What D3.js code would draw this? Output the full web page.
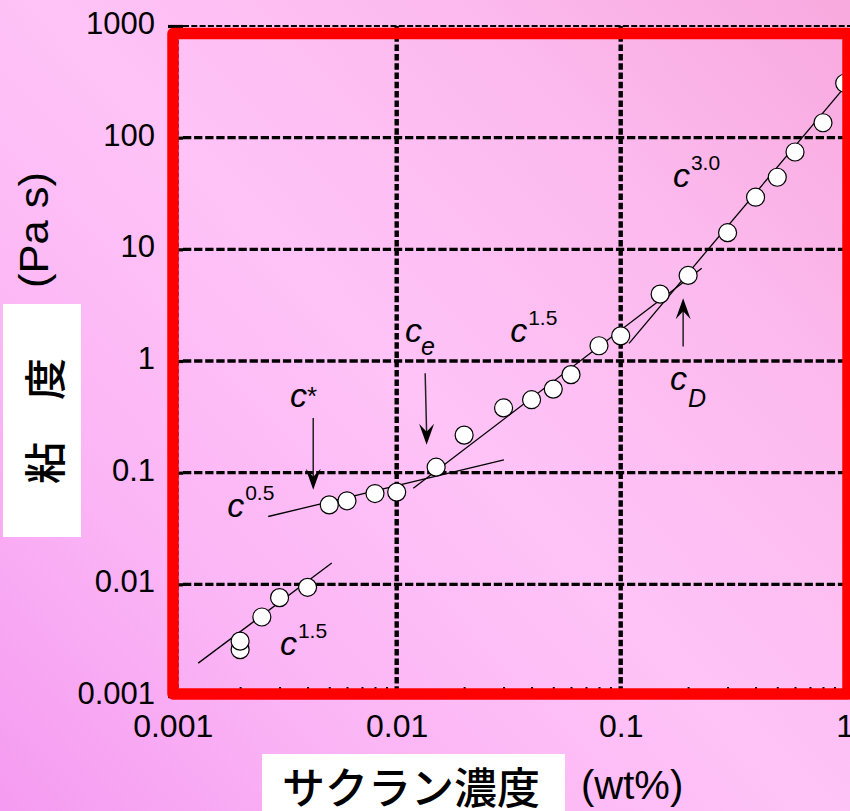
<!DOCTYPE html>
<html><head><meta charset="utf-8">
<script src="https://cdn.jsdelivr.net/npm/d3@7"></script>
<style>html,body{margin:0;padding:0;overflow:hidden;background:#fec0f5} svg{display:block}</style>
</head><body>
<svg id="chart" width="850" height="811"></svg>
<script>
// Viscosity of sacran solutions as a function of concentration (log-log)
const concentration = [0.002, 0.002, 0.0025, 0.003, 0.004, 0.005, 0.006, 0.008, 0.01, 0.015, 0.02, 0.03, 0.04, 0.05, 0.06, 0.08, 0.1, 0.15, 0.2, 0.3, 0.4, 0.5, 0.6, 0.8, 1.0];
const viscosity = [0.0026, 0.0031, 0.0051, 0.0076, 0.0094, 0.0515, 0.056, 0.065, 0.067, 0.112, 0.217, 0.38, 0.45, 0.56, 0.755, 1.37, 1.68, 3.97, 5.84, 14.1, 29.3, 44.2, 74.4, 136, 307];

const xTicks = [0.001, 0.01, 0.1, 1];
const xTickLabels = ["0.001", "0.01", "0.1", "1"];
const yTicks = [0.001, 0.01, 0.1, 1, 10, 100, 1000];
const yTickLabels = ["0.001", "0.01", "0.1", "1", "10", "100", "1000"];

// power-law segments, endpoints as [c, viscosity]
const fitDilute = [[0.0013, 0.00197], [0.00513, 0.0155]];      // c^1.5
const fitUnentangled = [[0.00267, 0.0405], [0.0301, 0.130]];   // c^0.5
const fitEntangled = [[0.01186, 0.0726], [0.230, 6.77]];       // c^1.5
const fitConcentrated = [[0.109, 1.44], [0.98, 271]];          // c^3.0

// critical-concentration arrows: [c, viscosity] of tail and tip
const arrowOverlap = [[0.00424, 0.308], [0.00424, 0.0702]];    // c*
const arrowEntangle = [[0.0134, 0.778], [0.0136, 0.1775]];     // ce
const arrowCD = [[0.190, 1.35], [0.190, 3.65]];                // cD

const exponentLabels = [
  { c: 0.00175, eta: 0.0402, sup: "0.5" },
  { c: 0.00301, eta: 0.00234, sup: "1.5" },
  { c: 0.0321, eta: 1.48, sup: "1.5" },
  { c: 0.171, eta: 36.2, sup: "3.0" }
];
const criticalLabels = [
  { c: 0.00334, eta: 0.388, mark: "*", kind: "sup" },
  { c: 0.01089, eta: 1.48, mark: "e", kind: "sub" },
  { c: 0.166, eta: 0.551, mark: "D", kind: "sub" }
];

const W = 850, H = 811;
const svg = d3.select("#chart");
const latin = "'Liberation Sans', Arial, sans-serif";
const cjk = "'Noto Sans CJK JP', 'Noto Sans CJK SC', sans-serif";

// background wash
const defs = svg.append("defs");
const grad = defs.append("linearGradient").attr("id", "bg")
  .attr("gradientUnits", "userSpaceOnUse")
  .attr("x1", 0).attr("y1", H).attr("x2", W).attr("y2", 0);
[[0, "#f59bf1"], [0.25, "#fbb5f5"], [0.5, "#ffc3f7"], [0.75, "#fcbaee"], [1, "#f8a9de"]]
  .forEach(([o, c]) => grad.append("stop").attr("offset", o).attr("stop-color", c));
svg.append("rect").attr("width", W).attr("height", H).attr("fill", "url(#bg)");

const x = d3.scaleLog().domain([0.001, 1]).range([172.7, 844.7]);
const y = d3.scaleLog().domain([0.001, 1000]).range([696, 26]);

// grid
const grid = svg.append("g");
yTicks.forEach(v => {
  const top = v === 1000;
  grid.append("line")
    .attr("x1", 183).attr("x2", W)
    .attr("y1", y(v)).attr("y2", y(v))
    .attr("stroke", "#000")
    .attr("stroke-width", top ? 2 : 3.4)
    .attr("stroke-dasharray", top ? "6,2.3" : "8.3,2.8");
});
xTicks.slice(1, 3).forEach(v => {
  grid.append("line")
    .attr("x1", x(v)).attr("x2", x(v))
    .attr("y1", y(1000)).attr("y2", y(0.001))
    .attr("stroke", "#000").attr("stroke-width", 4.4)
    .attr("stroke-dasharray", "6.5,2.8");
});
grid.append("line")
  .attr("x1", 178.5).attr("x2", 178.5).attr("y1", 40).attr("y2", 690)
  .attr("stroke", "#000").attr("stroke-width", 1).attr("stroke-opacity", 0.6)
  .attr("stroke-dasharray", "4,3");

// axes
const yAxis = svg.append("g").attr("transform", "translate(168,0)")
  .call(d3.axisLeft(y).tickValues(yTicks).tickFormat((d, i) => yTickLabels[i])
    .tickSize(-15).tickPadding(13));
yAxis.select(".domain").remove();
yAxis.selectAll(".tick line").attr("stroke", "#000").attr("stroke-width", 3.2);
yAxis.selectAll(".tick text").attr("dy", null).attr("y", 7.5)
  .attr("font-family", latin).attr("font-size", 31).attr("fill", "#000");

const xMinor = [];
[0.001, 0.01, 0.1].forEach(d => { for (let k = 2; k <= 9; k++) xMinor.push(d * k); });
const xMinorAxis = svg.append("g").attr("transform", `translate(0,${y(0.001)})`)
  .call(d3.axisBottom(x).tickValues(xMinor).tickFormat("").tickSize(-9));
xMinorAxis.select(".domain").remove();
xMinorAxis.selectAll(".tick line").attr("stroke", "#000").attr("stroke-width", 2);

const xAxis = svg.append("g").attr("transform", `translate(0,${y(0.001)})`)
  .call(d3.axisBottom(x).tickValues(xTicks).tickFormat((d, i) => xTickLabels[i]).tickSize(0));
xAxis.select(".domain").remove();
xAxis.selectAll(".tick text").attr("dy", null).attr("y", 41)
  .attr("font-family", latin).attr("font-size", 32).attr("fill", "#000");

// fitted power laws
const line = d3.line().x(d => x(d[0])).y(d => y(d[1]));
const fits = svg.append("g");
[fitDilute, fitUnentangled, fitEntangled, fitConcentrated].forEach(seg => {
  fits.append("path").attr("d", line(seg))
    .attr("fill", "none").attr("stroke", "#000").attr("stroke-width", 1.3);
});

// measured points
svg.append("g").selectAll("circle")
  .data(concentration.map((c, i) => [c, viscosity[i]]))
  .join("circle")
  .attr("cx", d => x(d[0])).attr("cy", d => y(d[1])).attr("r", 9)
  .attr("fill", "#fff").attr("stroke", "#000").attr("stroke-width", 1.2);

// arrows
const arrows = svg.append("g");
[arrowOverlap, arrowEntangle, arrowCD].forEach(a => {
  const x0 = x(a[0][0]), y0 = y(a[0][1]);
  const x1 = x(a[1][0]), y1 = y(a[1][1]);
  const dir = y1 > y0 ? 1 : -1;
  arrows.append("line").attr("x1", x0).attr("y1", y0).attr("x2", x1).attr("y2", y1 - dir * 12)
    .attr("stroke", "#222").attr("stroke-width", 1.5);
  arrows.append("path")
    .attr("d", `M${x1},${y1} L${x1 - 7.5},${y1 - dir * 21} L${x1},${y1 - dir * 13} L${x1 + 7.5},${y1 - dir * 21} Z`)
    .attr("fill", "#000");
});

// annotation text
const notes = svg.append("g").attr("font-family", latin).attr("fill", "#000");
exponentLabels.forEach(l => {
  const t = notes.append("text").attr("x", x(l.c)).attr("y", y(l.eta));
  t.append("tspan").attr("font-size", 34).attr("font-style", "italic").text("c");
  t.append("tspan").attr("font-size", 21).attr("dx", 1).attr("dy", -17).text(l.sup);
});
criticalLabels.forEach(l => {
  const t = notes.append("text").attr("x", x(l.c)).attr("y", y(l.eta));
  t.append("tspan").attr("font-size", 34).attr("font-style", "italic").text("c");
  if (l.kind === "sup") {
    t.append("tspan").attr("font-size", 26).attr("dy", -2).text(l.mark);
  } else {
    t.append("tspan").attr("font-size", 25).attr("font-style", "italic")
      .attr("dx", l.mark === "D" ? 1 : -1)
      .attr("dy", l.mark === "D" ? 17 : 13).text(l.mark);
  }
});

// outer frame
svg.append("rect")
  .attr("x", 173).attr("y", 33.5).attr("width", 675).attr("height", 660.5)
  .attr("fill", "none").attr("stroke", "#ff0000").attr("stroke-width", 11.5)
  .attr("stroke-linejoin", "round");

// axis titles
svg.append("text").attr("transform", "translate(48,230) rotate(-90)")
  .attr("text-anchor", "middle").attr("font-family", latin).attr("font-size", 40)
  .attr("textLength", 116).attr("lengthAdjust", "spacingAndGlyphs")
  .attr("fill", "#000").text("(Pa s)");
svg.append("text").attr("transform", "translate(48,330) rotate(-90)")
  .attr("text-anchor", "start").attr("font-family", latin).attr("font-size", 40)
  .attr("fill", "#000").text("η");
svg.append("rect").attr("x", 3).attr("y", 304).attr("width", 78).attr("height", 233).attr("fill", "#fff");
svg.append("text").attr("transform", "translate(42,421) rotate(-90)")
  .attr("text-anchor", "middle").attr("dominant-baseline", "central")
  .attr("font-family", cjk).attr("font-size", 42).attr("font-weight", 500)
  .attr("fill", "#000").text("粘　度");

svg.append("rect").attr("x", 262).attr("y", 754).attr("width", 303).attr("height", 57).attr("fill", "#fff");
svg.append("text").attr("x", 282).attr("y", 804)
  .attr("font-family", cjk).attr("font-size", 43).attr("font-weight", 500)
  .attr("fill", "#000").text("サクラン濃度");
svg.append("text").attr("x", 581).attr("y", 799)
  .attr("font-family", latin).attr("font-size", 40)
  .attr("fill", "#000").text("(wt%)");
</script>
</body></html>
